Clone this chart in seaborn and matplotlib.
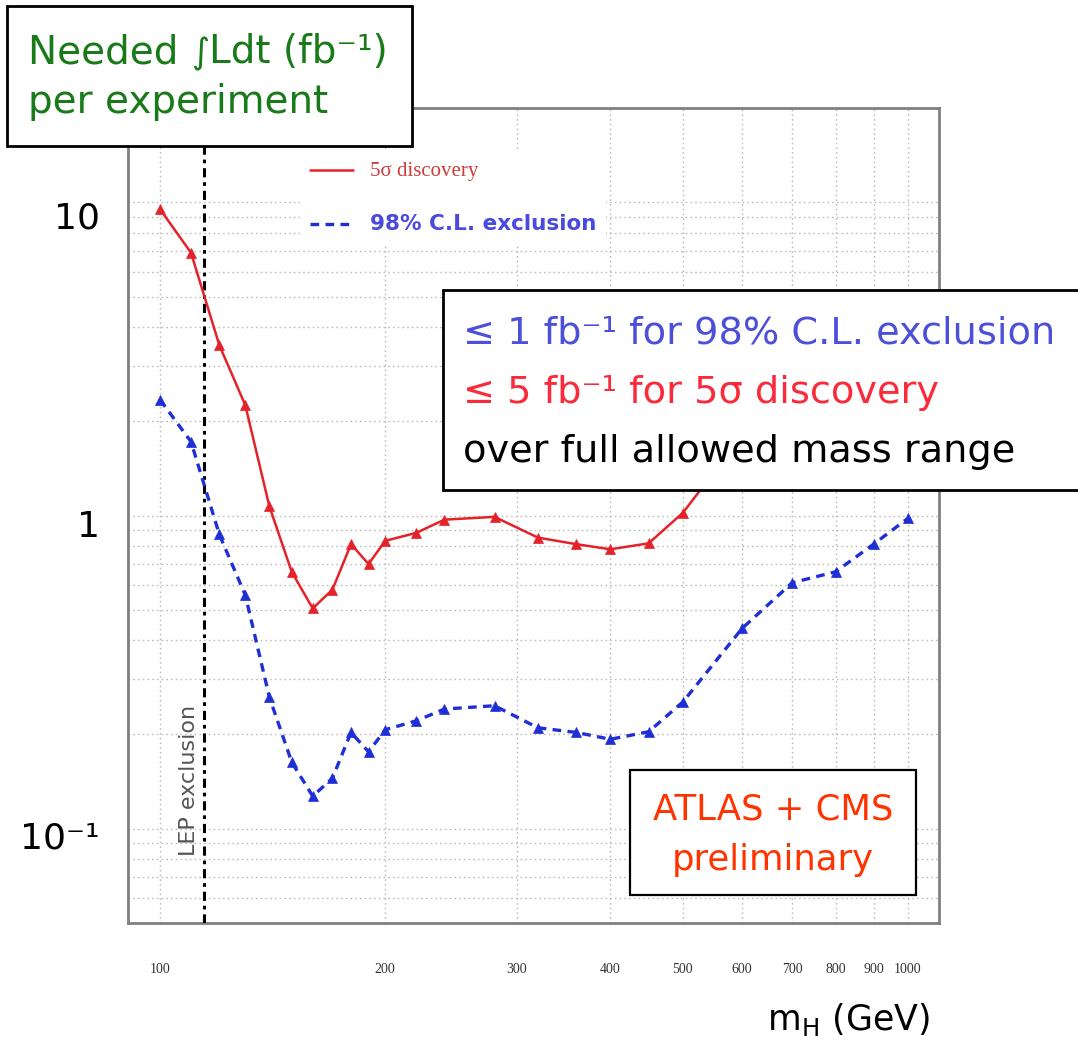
import numpy as np
import pandas as pd
import matplotlib
matplotlib.use("Agg")
import matplotlib.pyplot as plt
import matplotlib.transforms as mtransforms
from matplotlib.patches import Rectangle
from matplotlib.ticker import FixedLocator, NullLocator, LogLocator, NullFormatter
import seaborn as sns

# ---------------- data ----------------
mass = [100, 110, 120, 130, 140, 150, 160, 170, 180, 190, 200, 220, 240, 280,
        320, 360, 400, 450, 500, 600, 700, 800, 900, 1000]
discovery_5sigma = [9.5, 6.9, 3.5, 2.25, 1.07, 0.66, 0.505, 0.58, 0.81, 0.70, 0.83,
                    0.88, 0.97, 0.99, 0.85, 0.81, 0.78, 0.815, 1.02, 1.8, 2.4, 3.0,
                    3.6, 4.3]
exclusion_98cl = [2.34, 1.72, 0.87, 0.557, 0.263, 0.163, 0.127, 0.145, 0.203, 0.176,
                  0.207, 0.221, 0.241, 0.247, 0.21, 0.203, 0.193, 0.204, 0.254,
                  0.436, 0.61, 0.661, 0.811, 0.98]
lep_limit = 114.4
x_ticks = [100, 200, 300, 400, 500, 600, 700, 800, 900, 1000]
x_tick_labels = ["100", "200", "300", "400", "500", "600", "700", "800", "900", "1000"]
y_ticks = [0.1, 1, 10]
y_tick_labels = ["10⁻¹", "1", "10"]
series_labels = ["5σ discovery", "98% C.L. exclusion"]

df = pd.DataFrame({"mass": mass, "disc": discovery_5sigma, "excl": exclusion_98cl})

# ---------------- style ----------------
sns.set_style("white")
plt.rcParams["font.family"] = ["DejaVu Sans"]

W, H = 1078, 1046
fig = plt.figure(figsize=(W / 100, H / 100), dpi=100)
L, R, T, B = 128, 939, 108, 923
ax = fig.add_axes([L / W, 1 - B / H, (R - L) / W, (B - T) / H])

red = "#e5222a"
blue = "#1f2fd6"

sns.lineplot(data=df, x="mass", y="disc", ax=ax, color=red, lw=1.8, marker="^",
             markersize=7, markeredgecolor=red, markeredgewidth=0.5,
             label=series_labels[0], zorder=4)
sns.lineplot(data=df, x="mass", y="excl", ax=ax, color=blue, lw=2.4, marker="^",
             markersize=7, markeredgecolor=blue, markeredgewidth=0.5,
             linestyle=(0, (2.6, 1.9)), label=series_labels[1], zorder=4)

ax.set_xscale("log")
ax.set_yscale("log")
ax.set_xlim(90.6, 1100)
ax.set_ylim(0.05, 20)

# LEP exclusion line
ax.axvline(lep_limit, color="black", lw=2.2, linestyle=(0, (3, 1.6, 1.2, 1.6)), zorder=3)
ax.text(109.3, 0.143, "LEP exclusion", rotation=90, ha="center", va="center",
        fontsize=16, color="#555555")

# ticks & grid
ax.xaxis.set_major_locator(FixedLocator(x_ticks))
ax.xaxis.set_minor_locator(NullLocator())
ax.set_xticklabels(x_tick_labels)
ax.yaxis.set_major_locator(FixedLocator(y_ticks))
ax.set_yticklabels(y_tick_labels)
ax.yaxis.set_minor_locator(LogLocator(base=10, subs=np.arange(2, 10)))
ax.yaxis.set_minor_formatter(NullFormatter())

ax.grid(True, which="both", linestyle=(0, (1.2, 2.2)), color="#bdbdbd", lw=1.0, zorder=0)

ax.tick_params(axis="x", which="major", direction="out", length=10, width=1.2,
               color="#bbbbbb", pad=19, labelsize=10, labelcolor="#333333")
for lab in ax.get_xticklabels():
    lab.set_family("Liberation Serif")
ax.tick_params(axis="y", which="major", direction="inout", length=12, width=1.2,
               color="#999999", pad=14.5, labelsize=26, labelcolor="black")
ax.tick_params(axis="y", which="minor", direction="inout", length=8, width=1.0,
               color="#999999")
y_label_shift = [-0.06, -0.08, -0.13]
for lab, dy in zip(ax.get_yticklabels(), y_label_shift):
    lab.set_transform(lab.get_transform() +
                      mtransforms.ScaledTranslation(0, dy, fig.dpi_scale_trans))

for s in ax.spines.values():
    s.set_color("#808080")
    s.set_linewidth(2.0)

ax.set_xlabel("")
ax.set_ylabel("")

# legend
leg = ax.legend(loc="upper left", bbox_to_anchor=((300 - L) / (R - L), (B - 152) / (B - T)),
                borderaxespad=0, frameon=True, facecolor="white", edgecolor="none",
                framealpha=1.0, fontsize=13, handlelength=2.4, handletextpad=0.9,
                labelspacing=1.85, borderpad=0.55)
for h in leg.get_lines():
    h.set_marker("")
t0, t1 = leg.get_texts()
t0.set_family("Liberation Serif")
t0.set_fontsize(15)
t0.set_color("#d03a3a")
t1.set_fontsize(15.5)
t1.set_weight("bold")
t1.set_color("#4a4adc")

# ---------------- overlay boxes ----------------
def fig_rect(x0, y0, x1, y1, lw=1.6):
    r = Rectangle((x0 / W, 1 - y1 / H), (x1 - x0) / W, (y1 - y0) / H,
                  transform=fig.transFigure, facecolor="white", edgecolor="black",
                  lw=lw, zorder=5)
    fig.patches.append(r)

def ftext(x, y, s, **kw):
    return fig.text(x / W, 1 - y / H, s, zorder=6, **kw)

renderer = fig.canvas.get_renderer()

# top-left title box
fig_rect(7, 6, 412, 146, lw=2)
green = "#197a19"
pieces = [("Needed ", 28), ("∫", 25), ("Ldt (fb⁻¹)", 28)]
xcur = 28
for s, fs in pieces:
    t = ftext(xcur, 63, s, fontsize=fs, color=green, va="baseline", ha="left")
    xcur += t.get_window_extent(renderer).width
ftext(28, 113, "per experiment", fontsize=28, color=green, va="baseline", ha="left")

# statement box
fig_rect(443, 290, 1090, 490, lw=2)
ftext(463, 333, "≤ 1 fb⁻¹ for 98% C.L. exclusion", fontsize=27.5, color="#4b4fd9",
      va="center", ha="left")
ftext(463, 393, "≤ 5 fb⁻¹ for 5σ discovery", fontsize=27.5, color="#fb2a3a",
      va="center", ha="left")
ftext(463, 452, "over full allowed mass range", fontsize=27.5, color="black",
      va="center", ha="left")

# ATLAS + CMS box
fig_rect(630, 770, 916, 895, lw=1.6)
ftext(773, 810, "ATLAS + CMS", fontsize=25.5, color="#ff3300", va="center", ha="center")
ftext(773, 860, "preliminary", fontsize=25.5, color="#ff3300", va="center", ha="center")

# x axis title
ftext(848, 1020, "m$_{\\mathrm{H}}$ (GeV)", fontsize=25, color="black", va="center", ha="center")

fig.savefig("out.png", dpi=100)
